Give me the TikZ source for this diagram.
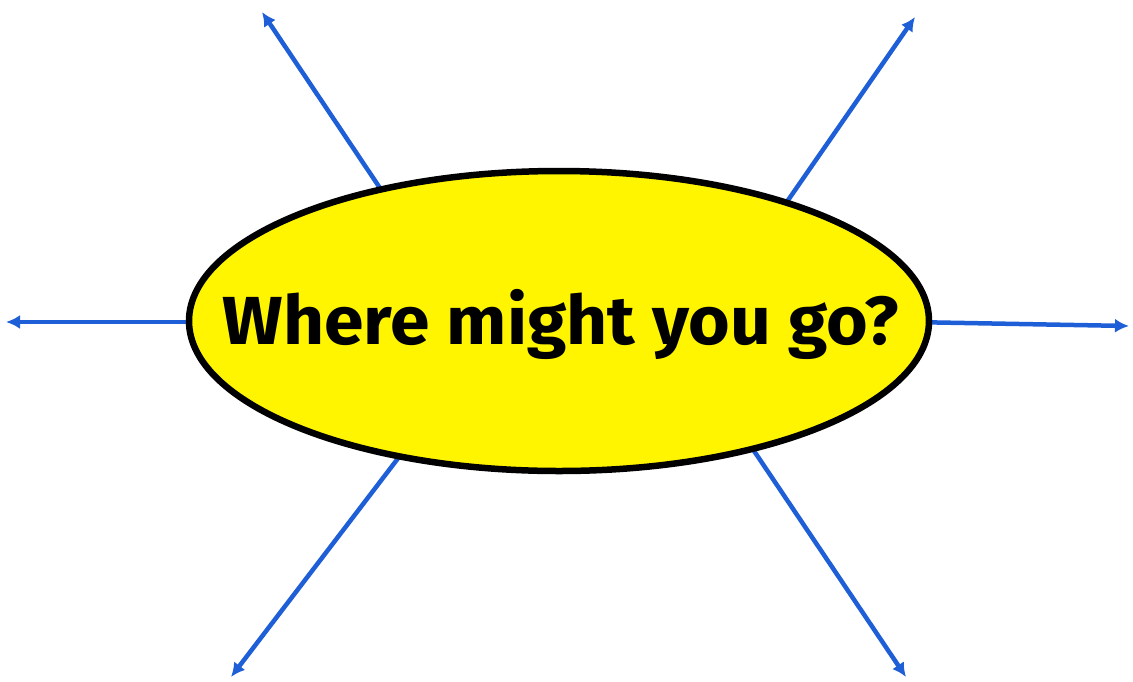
\documentclass[tikz,border=0pt]{standalone}
\usepackage{fontspec}
\setmainfont{Fira Sans}
\usetikzlibrary{arrows.meta,shapes.geometric}
\definecolor{arrowblue}{RGB}{30,95,215}
\definecolor{sunyellow}{RGB}{255,245,0}
\tikzset{
  spoke/.style={draw=arrowblue,line width=4.5pt,-{Latex[length=14pt,width=14pt]}},
  hub/.style={ellipse,draw=black,line width=6.5pt,fill=sunyellow,minimum width=740pt,minimum height=300pt,inner sep=0pt}
}
\begin{document}
\begin{tikzpicture}[x=1pt,y=-1pt]
\useasboundingbox (0,0) rectangle (1133,681);
\coordinate (s1) at (392,206); \coordinate (t1) at (262,12);
\coordinate (s2) at (775,219); \coordinate (t2) at (915,17);
\coordinate (s3) at (210,322); \coordinate (t3) at (6,322);
\coordinate (s4) at (910,322); \coordinate (t4) at (1129,326);
\coordinate (s5) at (412,440); \coordinate (t5) at (231,677);
\coordinate (s6) at (742,433); \coordinate (t6) at (906,677);
\foreach \i in {1,...,6} \draw[spoke] (s\i) -- (t\i);
\node[hub] (e) at (559,321) {};
\node[font={\fontsize{68}{72}\selectfont\bfseries},xscale=1.05,transform shape] (lbl) at (561,324) {Where might you go?};
\end{tikzpicture}
\end{document}
